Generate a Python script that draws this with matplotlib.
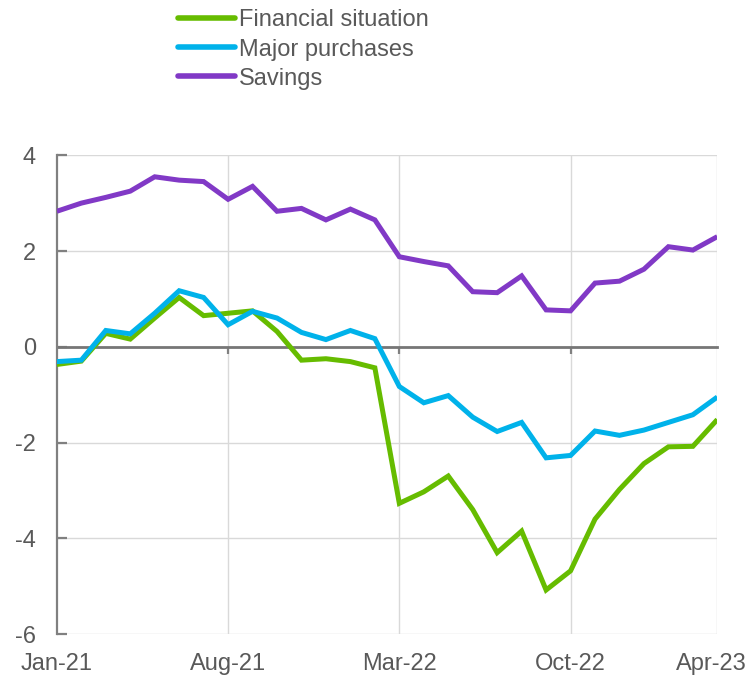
import matplotlib
matplotlib.use("Agg")
import matplotlib.pyplot as plt
import matplotlib.transforms as mtransforms
import numpy as np

months = ["Jan-21", "Feb-21", "Mar-21", "Apr-21", "May-21", "Jun-21", "Jul-21", "Aug-21",
          "Sep-21", "Oct-21", "Nov-21", "Dec-21", "Jan-22", "Feb-22", "Mar-22", "Apr-22",
          "May-22", "Jun-22", "Jul-22", "Aug-22", "Sep-22", "Oct-22", "Nov-22", "Dec-22",
          "Jan-23", "Feb-23", "Mar-23", "Apr-23"]

financial = [-0.37, -0.30, 0.28, 0.16, 0.60, 1.03, 0.65, 0.70, 0.75, 0.32, -0.28, -0.25,
             -0.31, -0.44, -3.27, -3.03, -2.70, -3.40, -4.30, -3.85, -5.08, -4.68, -3.60,
             -2.98, -2.44, -2.09, -2.08, -1.52]
major = [-0.31, -0.28, 0.34, 0.27, 0.70, 1.17, 1.03, 0.46, 0.74, 0.60, 0.30, 0.15, 0.34,
         0.17, -0.83, -1.17, -1.02, -1.47, -1.77, -1.58, -2.32, -2.27, -1.76, -1.85, -1.74,
         -1.58, -1.42, -1.05]
savings = [2.83, 3.00, 3.12, 3.25, 3.55, 3.48, 3.45, 3.08, 3.35, 2.83, 2.89, 2.65, 2.875,
           2.65, 1.88, 1.78, 1.69, 1.15, 1.13, 1.48, 0.77, 0.75, 1.33, 1.37, 1.62, 2.09,
           2.02, 2.30]

series_names = ["Financial situation", "Major purchases", "Savings"]
colors = ["#66BC00", "#00B2EA", "#8139C6"]

xtick_labels = ["Jan-21", "Aug-21", "Mar-22", "Oct-22", "Apr-23"]
yticks = [-6, -4, -2, 0, 2, 4]

plt.rcParams['font.family'] = ['Liberation Sans', 'DejaVu Sans']
text_color = "#595959"

fig = plt.figure(figsize=(7.48, 6.75), dpi=100)
ax = fig.add_axes([0.076, 0.0607, 0.883, 0.7093])

x = np.arange(len(months))
xtick_pos = [months.index(m) for m in xtick_labels]

lines = []
for name, vals, c in zip(series_names, [financial, major, savings], colors):
    ln, = ax.plot(x, vals, color=c, lw=3.6, label=name, solid_joinstyle='miter',
                  solid_capstyle='butt', zorder=3)
    lines.append(ln)

ax.set_xlim(0, len(months) - 1)
ax.set_ylim(-6, 4)
ax.set_yticks(yticks)
ax.set_yticklabels([str(v) for v in yticks])

ax.grid(axis='y', color="#d9d9d9", lw=1.0, zorder=0)
for p in xtick_pos[1:]:
    ax.axvline(p, color="#d9d9d9", lw=1.0, zorder=0)

for s in ['top', 'right']:
    ax.spines[s].set_visible(False)
ax.spines['left'].set_color("#808080")
ax.spines['left'].set_linewidth(1.6)
ax.spines['bottom'].set_position(('data', 0))
ax.spines['bottom'].set_color("#767676")
ax.spines['bottom'].set_linewidth(2.0)
ax.spines['bottom'].set_zorder(2)

ax.tick_params(axis='y', direction='in', length=7, width=1.6, color="#808080",
               labelsize=17, labelcolor=text_color, pad=15)
ax.set_xticks(xtick_pos[1:-1])
ax.tick_params(axis='x', direction='out', length=5, width=1.6, color="#808080",
               labelbottom=False)

ax2 = ax.twiny()
ax2.set_xlim(ax.get_xlim())
ax2.xaxis.set_ticks_position('bottom')
ax2.xaxis.set_label_position('bottom')
ax2.set_xticks(xtick_pos)
ax2.set_xticklabels(xtick_labels)
ax2.tick_params(axis='x', length=0, labelsize=17, labelcolor=text_color, pad=13.5)
for s in ax2.spines.values():
    s.set_visible(False)
last = ax2.get_xticklabels()[-1]
last.set_transform(last.get_transform() +
                   mtransforms.ScaledTranslation(-6 / 100, 0, fig.dpi_scale_trans))

leg = fig.legend(handles=lines, labels=series_names, loc='upper left',
                 bbox_to_anchor=(0.226, 1.0), frameon=False, fontsize=17,
                 handlelength=2.4, handletextpad=0.15, labelspacing=0.3,
                 borderaxespad=0.0)
for t in leg.get_texts():
    t.set_color(text_color)
for h in leg.legend_handles:
    h.set_linewidth(4.0)
    h.set_solid_capstyle('round')

fig.savefig("out.png", dpi=100)
